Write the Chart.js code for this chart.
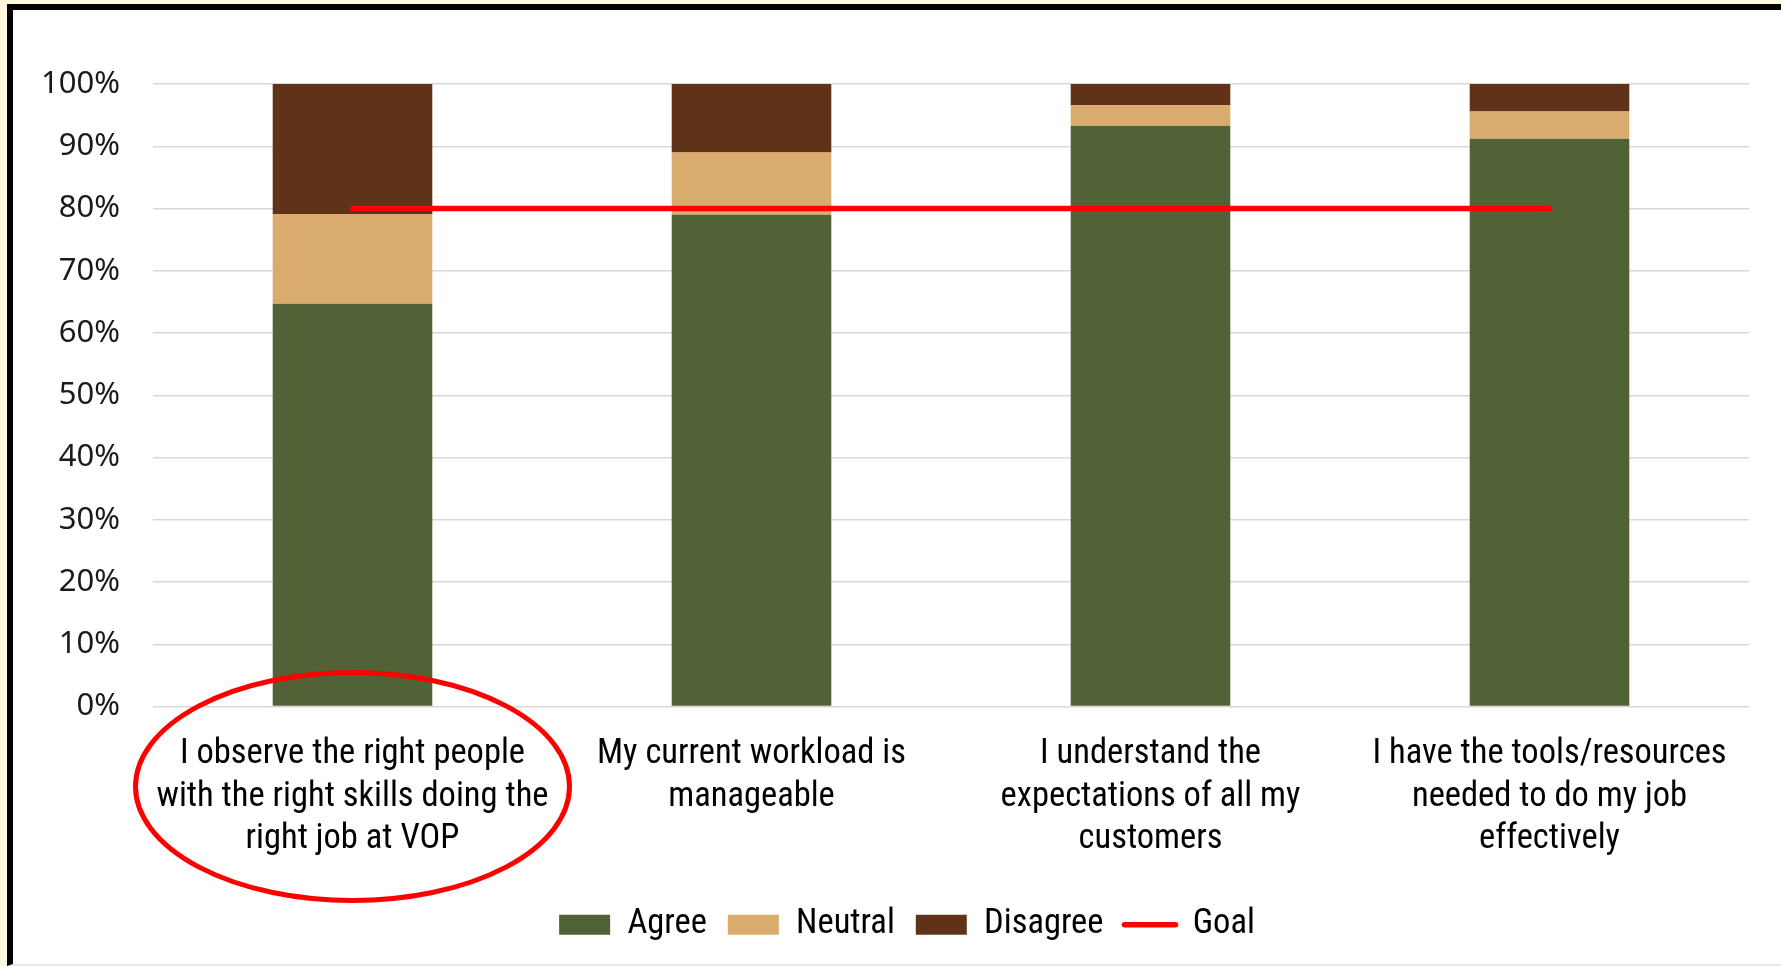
<!DOCTYPE html>
<html>
<head>
<meta charset="utf-8">
<title>Survey results</title>
<script src="https://cdn.jsdelivr.net/npm/chart.js@4/dist/chart.umd.min.js"></script>
<style>
  body { margin: 0; background: #fff7de; overflow: hidden; }
  #frame {
    position: absolute; left: 7px; top: 4px; right: -20px; bottom: 0;
    background: #fff;
    border-left: 6px solid #000; border-top: 6px solid #000;
    border-bottom: 2px solid #e8e8e8;
  }
  #surveyChart { position: absolute; left: 0; top: 0; }
</style>
</head>
<body>
<div id="frame"></div>
<canvas id="surveyChart" width="1781" height="966"></canvas>
<script>
// chart data
const questions = [
  ['I observe the right people', 'with the right skills doing the', 'right job at VOP'],
  ['My current workload is', 'manageable'],
  ['I understand the', 'expectations of all my', 'customers'],
  ['I have the tools/resources', 'needed to do my job', 'effectively']
];
const agree = [64.7, 79.0, 93.3, 91.2];
const neutral = [14.4, 10.0, 3.3, 4.4];
const disagree = [20.9, 11.0, 3.4, 4.4];
const goal = [80, 80, 80, 80];
const yTicks = [0, 10, 20, 30, 40, 50, 60, 70, 80, 90, 100];

const narrowFont = "'Liberation Sans Narrow', 'Arial Narrow', 'Roboto Condensed', 'Liberation Sans', sans-serif";

// red ring drawn round the first question
const ringPlugin = {
  id: 'ring',
  afterDraw(chart) {
    const ctx = chart.ctx;
    const cx = chart.scales.x.getPixelForValue(0);
    const cy = chart.chartArea.bottom + 80;
    ctx.save();
    ctx.strokeStyle = '#ff0000';
    ctx.lineWidth = 5;
    ctx.beginPath();
    ctx.ellipse(cx, cy, 217, 114, 0, 0, Math.PI * 2);
    ctx.stroke();
    ctx.restore();
  }
};

const config = {
  type: 'bar',
  data: {
    labels: questions,
    datasets: [
      { label: 'Agree', data: agree, backgroundColor: '#516336', order: 1 },
      { label: 'Neutral', data: neutral, backgroundColor: '#d9ab6d', order: 1 },
      { label: 'Disagree', data: disagree, backgroundColor: '#603319', order: 1 },
      {
        type: 'line', label: 'Goal', data: goal, stack: 'goal',
        borderColor: '#ff0000', backgroundColor: '#ff0000',
        borderWidth: 5.5, borderCapStyle: 'round', pointRadius: 0, order: 0
      }
    ]
  },
  options: {
    responsive: false,
    animation: false,
    layout: { padding: { left: 43, right: 10, top: 84, bottom: 14 } },
    datasets: { bar: { barPercentage: 0.4, categoryPercentage: 1, borderWidth: 0 } },
    scales: {
      x: {
        stacked: true,
        grid: { display: false },
        border: { display: false },
        ticks: { color: '#000', font: { family: narrowFont, size: 34.5, lineHeight: 1.23 }, padding: 19, maxRotation: 0, autoSkip: false },
        afterFit: s => { s.height = 180; }
      },
      y: {
        stacked: true,
        min: 0,
        max: 100,
        afterBuildTicks: s => { s.ticks = yTicks.map(v => ({ value: v })); },
        grid: { color: '#d9d9d9', lineWidth: 1.5, drawTicks: false },
        border: { display: false },
        ticks: { color: '#1a1a1a', font: { family: "'Noto Sans', sans-serif", size: 31 }, padding: 33, callback: v => v + '%' },
        afterFit: s => { s.width = 110; }
      },
      // empty right-hand margin
      yRight: {
        position: 'right',
        grid: { display: false },
        border: { display: false },
        ticks: { display: false },
        afterFit: s => { s.width = 22; }
      }
    },
    plugins: {
      tooltip: { enabled: false },
      legend: {
        position: 'bottom',
        labels: {
          color: '#000',
          font: { family: narrowFont, size: 34.5 },
          usePointStyle: true,
          pointStyleWidth: 51,
          boxHeight: 20,
          padding: 21,
          sort: (a, b) => a.datasetIndex - b.datasetIndex,
          generateLabels: chart => {
            const items = Chart.defaults.plugins.legend.labels.generateLabels(chart);
            items.forEach(item => {
              if (item.text === 'Goal') {
                item.pointStyle = 'line';
                item.lineWidth = 5.5;
                item.lineCap = 'round';
              } else {
                item.pointStyle = 'rect';
                item.lineWidth = 0;
              }
            });
            return items;
          }
        }
      }
    }
  },
  plugins: [ringPlugin]
};

new Chart(document.getElementById('surveyChart').getContext('2d'), config);
</script>
</body>
</html>
